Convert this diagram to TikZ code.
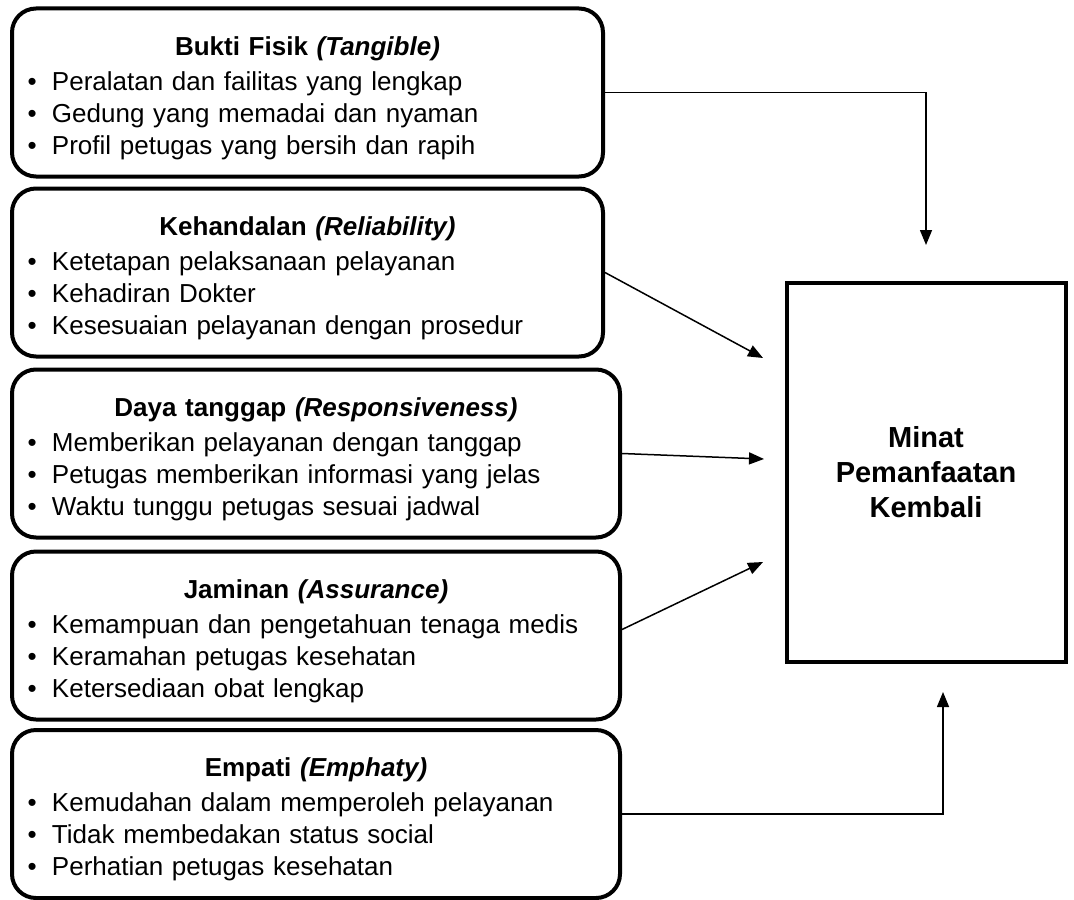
\documentclass[tikz,border=0pt]{standalone}
\usepackage{fontspec}
\setmainfont{Liberation Sans}
\usepackage{tikz}
\usetikzlibrary{arrows.meta,calc}
\newcommand{\bul}{\makebox[12.25pt][l]{\textbullet}}
\newcommand{\judul}[1]{\noindent\rule{0pt}{15pt}\makebox[\hsize]{\bfseries #1}\\[1.5pt]}

\begin{document}
\begin{tikzpicture}[x=0.5pt,y=-0.5pt,
  faktor/.style={draw,line width=2pt,rounded corners=12pt,minimum height=84pt,
    inner xsep=7.75pt,align=left,font=\fontsize{13}{16}\selectfont},
  hasil/.style={draw,line width=2pt,minimum width=139.5pt,minimum height=189.5pt,
    align=center,font=\fontsize{14.5}{17.5}\selectfont\bfseries},
  panah/.style={line width=0.75pt,-{Triangle[length=7.5pt,width=6pt]}}]
\useasboundingbox (0,0) rectangle (1074,899);

\node[faktor,text width=280pt] (bukti) at (307.5,92.5) {
\judul{Bukti Fisik \textit{(Tangible)}}
\bul Peralatan dan failitas yang lengkap\\
\bul Gedung yang memadai dan nyaman\\
\bul Profil petugas yang bersih dan rapih};

\node[faktor,text width=280pt] (handal) at (307.5,272.5) {
\judul{Kehandalan \textit{(Reliability)}}
\bul Ketetapan pelaksanaan pelayanan\\
\bul Kehadiran Dokter\\
\bul Kesesuaian pelayanan dengan prosedur};

\node[faktor,text width=288.5pt] (tanggap) at (316,453.5) {
\judul{Daya tanggap \textit{(Responsiveness)}}
\bul Memberikan pelayanan dengan tanggap\\
\bul Petugas memberikan informasi yang jelas\\
\bul Waktu tunggu petugas sesuai jadwal};

\node[faktor,text width=288.5pt] (jaminan) at (316,635.5) {
\judul{Jaminan \textit{(Assurance)}}
\bul Kemampuan dan pengetahuan tenaga medis\\
\bul Keramahan petugas kesehatan\\
\bul Ketersediaan obat lengkap};

\node[faktor,text width=288.5pt] (empati) at (316,814) {
\judul{Empati \textit{(Emphaty)}}
\bul Kemudahan dalam memperoleh pelayanan\\
\bul Tidak membedakan status social\\
\bul Perhatian petugas kesehatan};

\node[hasil] (minat) at (926,472.5) {Minat\\Pemanfaatan\\Kembali};

\coordinate (ujung1) at (926,245);
\coordinate (ujung2) at (763,358);
\coordinate (ujung3) at (764,459);
\coordinate (ujung4) at (763,562);
\coordinate (ujung5) at (943,692);

\draw[panah] (bukti.east) -| (ujung1);
\draw[panah] (handal.east) -- (ujung2);
\draw[panah] (tanggap.east) -- (ujung3);
\draw[panah] ([yshift=3pt]jaminan.east) -- (ujung4);
\draw[panah] (empati.east) -| (ujung5);
\end{tikzpicture}
\end{document}
